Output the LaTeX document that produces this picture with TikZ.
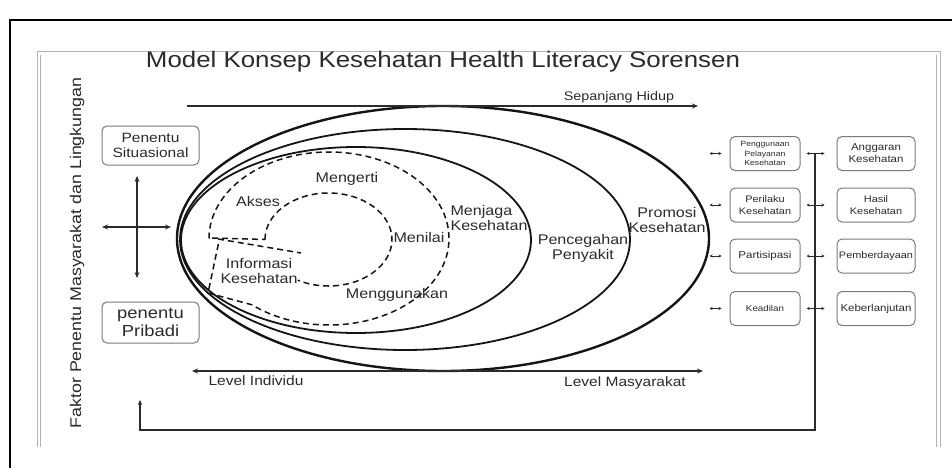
\documentclass[tikz,border=0pt]{standalone}
\usepackage{fontspec}
\setmainfont{Liberation Sans}[FakeStretch=1.15]
\usetikzlibrary{arrows.meta}
\definecolor{ink}{HTML}{151515}
\definecolor{txt}{HTML}{2B2B2B}
\definecolor{boxc}{HTML}{7A7A7A}
\definecolor{framec}{HTML}{B4B4B4}
\begin{document}
\begin{tikzpicture}[x=1pt,y=1pt,
  lbl/.style={inner sep=0pt, text=txt, align=center, font=\fontsize{14}{15}\selectfont},
  lbox/.style={draw=boxc, rounded corners=5pt, line width=1pt, minimum width=97pt, minimum height=39pt, inner sep=1pt, align=center, text=txt},
  rbox/.style={draw=boxc, rounded corners=5pt, line width=1pt, minimum height=34pt, inner sep=1pt, align=center, text=txt},
  arr/.style={draw=txt, line width=1.3pt, -{Stealth[length=6pt,width=5pt]}},
  darr/.style={draw=txt, line width=1.3pt, {Stealth[length=6pt,width=5pt]}-{Stealth[length=6pt,width=5pt]}},
  sarr/.style={draw=txt, line width=0.7pt, {Stealth[length=3pt,width=3pt]}-{Stealth[length=3pt,width=3pt]}},
  solidring/.style={draw=ink, line width=1.8pt},
  dashring/.style={draw=ink, line width=1.5pt, dash pattern=on 6pt off 4pt}
]
\useasboundingbox (0,0) rectangle (952,-468);
\fill[white] (0,0) rectangle (952,-468);

% frames
\draw[black, line width=2pt] (10,-468) -- (10,-20) -- (952,-20);
\draw[framec, line width=1pt] (37,-447) -- (37,-52) -- (940,-52) -- (940,-447);
\draw[framec, line width=0.6pt] (40.5,-447) -- (40.5,-55);
\draw[framec, line width=0.6pt] (936.5,-447) -- (936.5,-55);

% title and side text
\node[inner sep=0pt, text=txt, font=\fontsize{22.5}{26}\selectfont] (title) at (443,-62) {Model Konsep Kesehatan Health Literacy Sorensen};
\node[inner sep=0pt, text=txt, rotate=90, font=\fontsize{15.5}{18}\selectfont] (faktor) at (77,-253) {Faktor Penentu Masyarakat dan Lingkungan};

% solid rings
\coordinate (c1) at (443,-238.5);
\coordinate (c2) at (405,-239.5);
\coordinate (c3) at (356,-240);
\draw[solidring, line width=2.4pt] (c1) ellipse [x radius=266pt, y radius=132.5pt];
\draw[solidring] (c2) ellipse [x radius=225pt, y radius=110.5pt];
\draw[solidring] (c3) ellipse [x radius=175pt, y radius=93pt];

% dashed rings
\coordinate (d1) at (209,-238.5);
\coordinate (dc) at (208,-293);
\coordinate (dk) at (219,-241);
\draw[dashring] (d1) arc[start angle=180, end angle=-130, x radius=120pt, y radius=86.5pt] -- (dc) -- (dk);
\coordinate (i1) at (265,-239.5);
\draw[dashring] (i1) arc[start angle=180, end angle=-119, x radius=63.5pt, y radius=46.5pt];
\coordinate (h1) at (212,-238);
\coordinate (g1) at (218,-239);
\coordinate (g2) at (301,-253);
\draw[dashring] (h1) -- (i1);
\draw[dashring] (g1) -- (g2);

% ring labels
\node[lbl] (mengerti) at (347,-179) {Mengerti};
\node[lbl] (akses) at (258,-201) {Akses};
\node[lbl] (menilai) at (419,-237) {Menilai};
\node[lbl] (info) at (259,-271) {Informasi\\Kesehatan};
\node[lbl] (menggunakan) at (397,-295) {Menggunakan};
\node[lbl, align=left] (menjaga) at (489,-218) {Menjaga\\Kesehatan};
\node[lbl] (pencegahan) at (583,-248) {Pencegahan\\Penyakit};
\node[lbl] (promosi) at (667,-220) {Promosi\\Kesehatan};

% top and bottom axes
\coordinate (tA) at (187,-106);
\coordinate (tB) at (698,-106);
\draw[arr] (tA) -- (tB);
\node[inner sep=0pt, text=txt, font=\fontsize{12.5}{14}\selectfont] (hidup) at (619,-97) {Sepanjang Hidup};
\coordinate (bA) at (192,-371);
\coordinate (bB) at (703,-371);
\draw[darr] (bA) -- (bB);
\node[inner sep=0pt, text=txt, font=\fontsize{13.5}{15}\selectfont] (indiv) at (256,-381) {Level Individu};
\node[inner sep=0pt, text=txt, font=\fontsize{13.5}{15}\selectfont] (masy) at (625,-383) {Level Masyarakat};

% left boxes and cross
\node[lbox, font=\fontsize{13.5}{15}\selectfont] (situ) at (150.5,-145.5) {Penentu\\Situasional};
\node[lbox, minimum height=41pt, font=\fontsize{16}{17.5}\selectfont] (prib) at (150.5,-322.5) {penentu\\Pribadi};
\coordinate (vU) at (137,-176);
\coordinate (vD) at (137,-278);
\coordinate (hL) at (102,-227);
\coordinate (hR) at (171,-227);
\draw[darr] (vU) -- (vD);
\draw[darr] (hL) -- (hR);

% right boxes
\node[rbox, minimum width=70pt, font=\fontsize{7.5}{9.5}\selectfont] (a1) at (765,-153.5) {Penggunaan\\Pelayanan\\Kesehatan};
\node[rbox, minimum width=70pt, font=\fontsize{9.5}{12}\selectfont] (a2) at (765,-205) {Perilaku\\Kesehatan};
\node[rbox, minimum width=70pt, font=\fontsize{10}{12}\selectfont] (a3) at (765,-256) {Partisipasi};
\node[rbox, minimum width=70pt, font=\fontsize{8.5}{10}\selectfont] (a4) at (765,-308.5) {Keadilan};
\node[rbox, minimum width=78pt, font=\fontsize{10}{12}\selectfont] (b1) at (876,-153.5) {Anggaran\\Kesehatan};
\node[rbox, minimum width=78pt, font=\fontsize{9.5}{12}\selectfont] (b2) at (876,-205) {Hasil\\Kesehatan};
\node[rbox, minimum width=78pt, font=\fontsize{9.5}{12}\selectfont] (b3) at (876,-256) {Pemberdayaan};
\node[rbox, minimum width=78pt, font=\fontsize{10}{12}\selectfont] (b4) at (876,-308.5) {Keberlanjutan};

\foreach \r in {1,2,3,4}{
  \draw[sarr] ([xshift=-20pt]a\r.west) -- ([xshift=-8pt]a\r.west);
  \draw[sarr] ([xshift=6pt]a\r.east) -- ([xshift=-12pt]b\r.west);
}

% feedback line
\coordinate (fT) at (815,-153.5);
\coordinate (fB) at (815,-430);
\coordinate (fL) at (140,-430);
\coordinate (fE) at (140,-400);
\draw[draw=txt, line width=1.2pt, -{Stealth[length=5pt,width=4.5pt]}] (fT) -- (fB) -- (fL) -- (fE);
\end{tikzpicture}
\end{document}
